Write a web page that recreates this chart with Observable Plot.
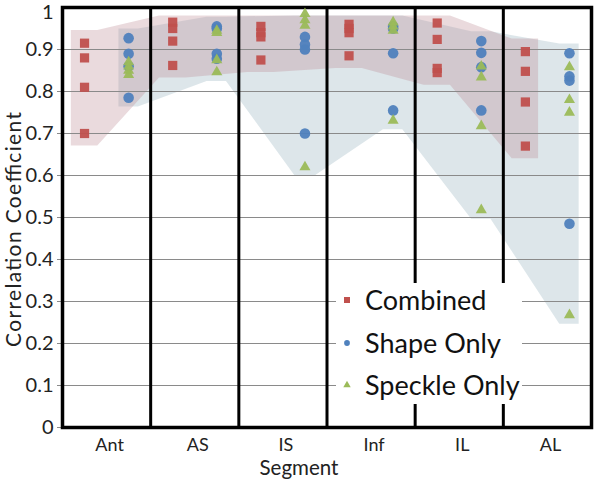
<!DOCTYPE html>
<html><head><meta charset="utf-8">
<script src="https://cdn.jsdelivr.net/npm/d3@7"></script>
<script src="https://cdn.jsdelivr.net/npm/@observablehq/plot@0.6"></script>
<style>
body{margin:0;background:#fff;font-family:Lato,sans-serif}
#wrap{position:relative;width:600px;height:481px}
#legend{position:absolute;left:336px;top:283px;width:186px;height:121px;background:#fff}
.item{position:absolute;left:0;width:186px;height:40px}
.item svg{position:absolute;left:5px;top:14px}
.item span{position:absolute;left:29px;top:0;line-height:40px;font-size:27px;color:#111;white-space:nowrap}
</style></head><body><div id="wrap"></div>
<script>
const segments = ["Ant", "AS", "IS", "Inf", "IL", "AL"];
const yTicks = [0, 0.1, 0.2, 0.3, 0.4, 0.5, 0.6, 0.7, 0.8, 0.9, 1];
const seriesNames = ["Combined", "Shape Only", "Speckle Only"];

const combined = [
  [0.915, 0.88, 0.81, 0.70],
  [0.965, 0.95, 0.92, 0.862],
  [0.955, 0.94, 0.93, 0.875],
  [0.96, 0.95, 0.94, 0.885],
  [0.963, 0.924, 0.855, 0.845],
  [0.895, 0.848, 0.775, 0.67]
];
const shapeOnly = [
  [0.927, 0.89, 0.86, 0.785],
  [0.955, 0.95, 0.89, 0.878],
  [0.93, 0.912, 0.90, 0.70],
  [0.955, 0.95, 0.891, 0.755],
  [0.92, 0.892, 0.858, 0.755],
  [0.891, 0.836, 0.826, 0.485]
];
const speckleOnly = [
  [0.87, 0.86, 0.85, 0.84],
  [0.945, 0.94, 0.875, 0.846],
  [0.985, 0.97, 0.957, 0.62],
  [0.965, 0.955, 0.945, 0.731],
  [0.86, 0.834, 0.718, 0.518],
  [0.858, 0.78, 0.75, 0.268]
];

// styles
const colors = {"Combined": "#c0504d", "Shape Only": "#4f81bd", "Speckle Only": "#9bbb59"};
const symbols = {"Combined": "square", "Shape Only": "circle", "Speckle Only": "triangle"};
const radius = {"Combined": 5.2, "Shape Only": 5.3, "Speckle Only": 4.1};
const offset = {"Combined": -0.25, "Shape Only": 0.25, "Speckle Only": 0.25};
const seriesData = {"Combined": combined, "Shape Only": shapeOnly, "Speckle Only": speckleOnly};

const rows = [];
for (const name of seriesNames) {
  seriesData[name].forEach((vals, i) => vals.forEach(v => rows.push({series: name, seg: i, x: i + offset[name], value: v})));
}

// envelope bands computed from the data
function band(arrs, off, pad, half) {
  const pts = [];
  segments.forEach((s, i) => {
    const vals = arrs.flatMap(a => a[i]);
    const lo = d3.min(vals) - pad, hi = Math.min(d3.max(vals) + pad, 0.98);
    pts.push({x: i + off - half, lo, hi}, {x: i + off + half, lo, hi});
  });
  return pts;
}
const bandCombined = band([combined], -0.25, 0.03, 0.15);
const bandShapeSpeckle = band([shapeOnly, speckleOnly], 0.25, 0.022, 0.11);
const boundaries = segments.slice(1).map((s, i) => i + 0.5);

const plot = Plot.plot({
  width: 600, height: 481,
  marginLeft: 62, marginRight: 9, marginTop: 7, marginBottom: 54,
  style: {fontFamily: "Lato, sans-serif", color: "#222", background: "white"},
  x: {domain: [-0.5, 5.5]},
  y: {domain: [0, 1]},
  marks: [
    Plot.areaY(bandShapeSpeckle, {x: "x", y1: "lo", y2: "hi", fill: "#9fb8c2", fillOpacity: 0.35}),
    Plot.areaY(bandCombined, {x: "x", y1: "lo", y2: "hi", fill: "#b9838f", fillOpacity: 0.3}),
    Plot.gridY(yTicks.slice(1, -1), {stroke: "#8a8a8a", strokeOpacity: 1, strokeWidth: 1}),
    Plot.axisY(yTicks.slice(0, -1), {tickFormat: d3.format("~g"), tickSize: 5, tickPadding: 4, fontSize: 20, label: null, stroke: "#8a8a8a"}),
    Plot.axisY(yTicks.slice(-1), {tickFormat: d3.format("~g"), tickSize: 0, tickPadding: 9, dy: 5, fontSize: 20, label: null}),
    Plot.axisX(segments.map((s, i) => i), {tickFormat: i => segments[i], tickSize: 0, tickPadding: 11, dx: 3, fontSize: 18, label: null}),
    Plot.text(["Correlation Coefficient"], {frameAnchor: "left", textAnchor: "middle", dx: -48, dy: 12, rotate: -90, fontSize: 21}),
    Plot.text(["Segment"], {frameAnchor: "bottom", dx: -28, dy: 47, fontSize: 20.5}),
    Plot.ruleX(boundaries, {stroke: "black", strokeWidth: 3}),
    Plot.frame({stroke: "black", strokeWidth: 3.5}),
    ...seriesNames.map(name => Plot.dot(rows.filter(d => d.series === name), {
      x: "x", y: "value", symbol: symbols[name], r: radius[name], fill: colors[name], fillOpacity: 0.95
    }))
  ]
});
d3.select(plot).selectAll("text")
  .filter(function() { return this.textContent === "Correlation Coefficient"; })
  .attr("textLength", 235).attr("lengthAdjust", "spacing");
const wrap = document.getElementById("wrap");
wrap.appendChild(plot);

// legend overlay
const legend = document.createElement("div");
legend.id = "legend";
const legendSize = {"Combined": 36, "Shape Only": 26, "Speckle Only": 24};
const symFn = {"Combined": d3.symbolSquare, "Shape Only": d3.symbolCircle, "Speckle Only": d3.symbolTriangle};
seriesNames.forEach((name, k) => {
  const item = document.createElement("div");
  item.className = "item";
  item.style.top = (k * 42.5 - 3) + "px";
  const path = d3.symbol(symFn[name], legendSize[name])();
  item.innerHTML = `<svg width="12" height="12" viewBox="-6 -6 12 12"><path d="${path}" fill="${colors[name]}"/></svg><span>${name}</span>`;
  legend.appendChild(item);
});
wrap.appendChild(legend);
</script>
</body></html>
